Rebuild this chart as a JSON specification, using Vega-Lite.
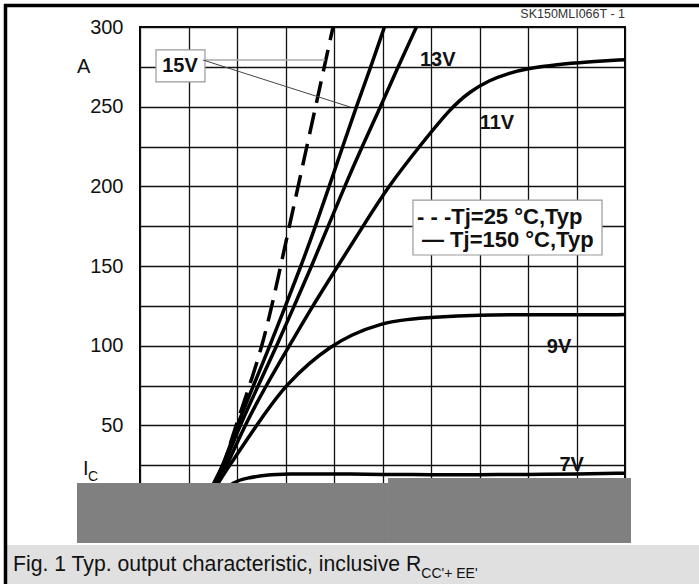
{
  "$schema": "https://vega.github.io/schema/vega-lite/v6.json",
  "width": 485,
  "height": 478,
  "autosize": {"type": "none"},
  "padding": {"left": 140, "top": 27, "right": 74, "bottom": 79},
  "background": "#ffffff",
  "config": {"view": {"stroke": "#000000", "strokeWidth": 2}, "font": "Liberation Sans"},
  "datasets": {
    "curves": [
      {"vge": "15V", "tj": 150, "v": 0.65, "i": 0}, {"vge": "15V", "tj": 150, "v": 0.76, "i": 14}, {"vge": "15V", "tj": 150, "v": 0.86, "i": 25}, {"vge": "15V", "tj": 150, "v": 1.0, "i": 50}, {"vge": "15V", "tj": 150, "v": 1.17, "i": 75}, {"vge": "15V", "tj": 150, "v": 1.34, "i": 100}, {"vge": "15V", "tj": 150, "v": 1.5, "i": 125}, {"vge": "15V", "tj": 150, "v": 1.66, "i": 150}, {"vge": "15V", "tj": 150, "v": 1.81, "i": 175}, {"vge": "15V", "tj": 150, "v": 1.95, "i": 200}, {"vge": "15V", "tj": 150, "v": 2.09, "i": 225}, {"vge": "15V", "tj": 150, "v": 2.23, "i": 250}, {"vge": "15V", "tj": 150, "v": 2.38, "i": 275}, {"vge": "15V", "tj": 150, "v": 2.52, "i": 300},
      {"vge": "13V", "tj": 150, "v": 0.66, "i": 0}, {"vge": "13V", "tj": 150, "v": 0.77, "i": 14}, {"vge": "13V", "tj": 150, "v": 0.87, "i": 25}, {"vge": "13V", "tj": 150, "v": 1.03, "i": 50}, {"vge": "13V", "tj": 150, "v": 1.22, "i": 75}, {"vge": "13V", "tj": 150, "v": 1.41, "i": 100}, {"vge": "13V", "tj": 150, "v": 1.59, "i": 125}, {"vge": "13V", "tj": 150, "v": 1.77, "i": 150}, {"vge": "13V", "tj": 150, "v": 1.94, "i": 175}, {"vge": "13V", "tj": 150, "v": 2.11, "i": 200}, {"vge": "13V", "tj": 150, "v": 2.29, "i": 225}, {"vge": "13V", "tj": 150, "v": 2.48, "i": 250}, {"vge": "13V", "tj": 150, "v": 2.66, "i": 275}, {"vge": "13V", "tj": 150, "v": 2.85, "i": 300},
      {"vge": "11V", "tj": 150, "v": 0.67, "i": 0}, {"vge": "11V", "tj": 150, "v": 0.79, "i": 14}, {"vge": "11V", "tj": 150, "v": 0.9, "i": 25}, {"vge": "11V", "tj": 150, "v": 1.08, "i": 50}, {"vge": "11V", "tj": 150, "v": 1.3, "i": 75}, {"vge": "11V", "tj": 150, "v": 1.54, "i": 100}, {"vge": "11V", "tj": 150, "v": 1.78, "i": 125}, {"vge": "11V", "tj": 150, "v": 2.04, "i": 150}, {"vge": "11V", "tj": 150, "v": 2.3, "i": 175}, {"vge": "11V", "tj": 150, "v": 2.56, "i": 200}, {"vge": "11V", "tj": 150, "v": 2.88, "i": 225}, {"vge": "11V", "tj": 150, "v": 3.2, "i": 249}, {"vge": "11V", "tj": 150, "v": 3.4, "i": 259.5}, {"vge": "11V", "tj": 150, "v": 3.6, "i": 266.5}, {"vge": "11V", "tj": 150, "v": 3.8, "i": 271}, {"vge": "11V", "tj": 150, "v": 4.0, "i": 274}, {"vge": "11V", "tj": 150, "v": 4.3, "i": 276.5}, {"vge": "11V", "tj": 150, "v": 4.6, "i": 278}, {"vge": "11V", "tj": 150, "v": 5.0, "i": 279.5},
      {"vge": "9V", "tj": 150, "v": 0.68, "i": 0}, {"vge": "9V", "tj": 150, "v": 0.84, "i": 17.8}, {"vge": "9V", "tj": 150, "v": 1.01, "i": 32.4}, {"vge": "9V", "tj": 150, "v": 1.2, "i": 50}, {"vge": "9V", "tj": 150, "v": 1.36, "i": 63.5}, {"vge": "9V", "tj": 150, "v": 1.51, "i": 75.3}, {"vge": "9V", "tj": 150, "v": 1.75, "i": 89.5}, {"vge": "9V", "tj": 150, "v": 1.96, "i": 99}, {"vge": "9V", "tj": 150, "v": 2.16, "i": 106.5}, {"vge": "9V", "tj": 150, "v": 2.5, "i": 114.3}, {"vge": "9V", "tj": 150, "v": 2.75, "i": 116.5}, {"vge": "9V", "tj": 150, "v": 3.0, "i": 117.8}, {"vge": "9V", "tj": 150, "v": 3.5, "i": 119.3}, {"vge": "9V", "tj": 150, "v": 4.0, "i": 119.5}, {"vge": "9V", "tj": 150, "v": 4.5, "i": 119.3}, {"vge": "9V", "tj": 150, "v": 5.0, "i": 119.5},
      {"vge": "7V", "tj": 150, "v": 0.74, "i": 0}, {"vge": "7V", "tj": 150, "v": 0.85, "i": 8}, {"vge": "7V", "tj": 150, "v": 0.96, "i": 14.4}, {"vge": "7V", "tj": 150, "v": 1.1, "i": 17}, {"vge": "7V", "tj": 150, "v": 1.3, "i": 18.8}, {"vge": "7V", "tj": 150, "v": 1.5, "i": 19.5}, {"vge": "7V", "tj": 150, "v": 2.0, "i": 19.5}, {"vge": "7V", "tj": 150, "v": 2.5, "i": 19.2}, {"vge": "7V", "tj": 150, "v": 3.0, "i": 19}, {"vge": "7V", "tj": 150, "v": 3.5, "i": 19}, {"vge": "7V", "tj": 150, "v": 4.0, "i": 19.2}, {"vge": "7V", "tj": 150, "v": 4.5, "i": 19.5}, {"vge": "7V", "tj": 150, "v": 5.0, "i": 20},
      {"vge": "15V", "tj": 25, "v": 0.74, "i": 0}, {"vge": "15V", "tj": 25, "v": 0.86, "i": 25}, {"vge": "15V", "tj": 25, "v": 0.99, "i": 50}, {"vge": "15V", "tj": 25, "v": 1.13, "i": 75}, {"vge": "15V", "tj": 25, "v": 1.26, "i": 100}, {"vge": "15V", "tj": 25, "v": 1.36, "i": 125}, {"vge": "15V", "tj": 25, "v": 1.45, "i": 150}, {"vge": "15V", "tj": 25, "v": 1.54, "i": 175}, {"vge": "15V", "tj": 25, "v": 1.63, "i": 200}, {"vge": "15V", "tj": 25, "v": 1.72, "i": 225}, {"vge": "15V", "tj": 25, "v": 1.81, "i": 250}, {"vge": "15V", "tj": 25, "v": 1.9, "i": 275}, {"vge": "15V", "tj": 25, "v": 1.99, "i": 300}
    ],
    "boxes": [
      {"name": "legend", "v": 2.814, "v2": 4.763, "i": 191.4, "i2": 156.9},
      {"name": "15V", "v": 0.165, "v2": 0.67, "i": 285.6, "i2": 265.5}
    ],
    "leaders": [
      {"name": "dashed", "v": 0.67, "v2": 1.907, "i": 279.3, "i2": 279.3},
      {"name": "solid", "v": 0.649, "v2": 2.165, "i": 279.3, "i2": 249.8}
    ],
    "curveLabels": [
      {"label": "15V", "v": 0.412, "i": 275.5},
      {"label": "13V", "v": 3.07, "i": 279.3},
      {"label": "11V", "v": 3.68, "i": 239.7},
      {"label": "9V", "v": 4.32, "i": 99.2},
      {"label": "7V", "v": 4.45, "i": 25.1}
    ],
    "legendText": [
      {"label": "- - -Tj=25 °C,Typ", "v": 2.856, "i": 180.8},
      {"label": "— Tj=150 °C,Typ", "v": 2.907, "i": 166.3}
    ],
    "unitText": [
      {"label": "A", "v": -0.6495, "i": 275.0}
    ],
    "icText": [
      {"label": "I", "v": -0.5876, "i": 18.83}
    ],
    "icSub": [
      {"label": "C", "v": -0.536, "i": 15.06}
    ],
    "redact": [
      {"v": -0.6495, "v2": 2.557, "i": 13.81, "i2": -23.85},
      {"v": 2.557, "v2": 5.062, "i": 16.95, "i2": -23.85}
    ],
    "frame": [
      {"v": -1.402, "v2": 5.763, "i": 313.5, "i2": 313.5},
      {"v": -1.3866, "v2": -1.3866, "i": 314.4, "i2": -49.6}
    ],
    "captionBar": [
      {"v": -1.371, "v2": 5.763, "i": -25.1, "i2": -49.6}
    ],
    "caption": [
      {"label": "Fig. 1 Typ. output characteristic, inclusive R", "v": -1.309, "i": -41.42}
    ],
    "captionSub": [
      {"label": "CC'+ EE'", "v": 2.9, "i": -45.8}
    ],
    "code": [
      {"label": "SK150MLI066T - 1", "v": 5.0, "i": 305.7}
    ]
  },
  "encoding": {
    "x": {
      "field": "v", "type": "quantitative",
      "scale": {"domain": [0, 5], "nice": false, "zero": false},
      "axis": {"values": [0, 0.5, 1, 1.5, 2, 2.5, 3, 3.5, 4, 4.5, 5], "labels": false, "ticks": false, "tickSize": 0, "domain": false, "title": null, "grid": true, "gridColor": "#111111", "gridWidth": 1.3, "gridOpacity": 1}
    },
    "y": {
      "field": "i", "type": "quantitative",
      "scale": {"domain": [0, 300], "nice": false, "zero": true},
      "axis": {"values": [0, 25, 50, 75, 100, 125, 150, 175, 200, 225, 250, 275, 300], "labelExpr": "datum.value % 50 === 0 && datum.value > 0 ? datum.label : ''", "ticks": false, "tickSize": 0, "domain": false, "title": null, "grid": true, "gridColor": "#111111", "gridWidth": 1.3, "gridOpacity": 1, "labelFont": "Liberation Sans", "labelFontSize": 20, "labelColor": "#111111", "labelPadding": 17, "labelOverlap": false}
    }
  },
  "layer": [
    {
      "data": {"name": "curves"},
      "transform": [{"filter": "datum.tj === 150"}],
      "mark": {"type": "line", "color": "#000000", "strokeWidth": 3.5, "interpolate": "basis"},
      "encoding": {"detail": {"field": "vge"}}
    },
    {
      "data": {"name": "curves"},
      "transform": [{"filter": "datum.tj === 25"}],
      "mark": {"type": "line", "color": "#000000", "strokeWidth": 3.5, "strokeDash": [22, 10], "interpolate": "basis"},
      "encoding": {"detail": {"field": "vge"}}
    },
    {
      "data": {"name": "boxes"},
      "mark": {"type": "rect", "fill": "#ffffff", "stroke": "#999999", "strokeWidth": 1.2},
      "encoding": {"x2": {"field": "v2"}, "y2": {"field": "i2"}}
    },
    {
      "data": {"name": "leaders"},
      "transform": [{"filter": "datum.name === 'dashed'"}],
      "mark": {"type": "rule", "color": "#aaaaaa", "strokeWidth": 1.5},
      "encoding": {"x2": {"field": "v2"}, "y2": {"field": "i2"}}
    },
    {
      "data": {"name": "leaders"},
      "transform": [{"filter": "datum.name === 'solid'"}],
      "mark": {"type": "rule", "color": "#444444", "strokeWidth": 1},
      "encoding": {"x2": {"field": "v2"}, "y2": {"field": "i2"}}
    },
    {
      "data": {"name": "curveLabels"},
      "mark": {"type": "text", "font": "Liberation Sans", "fontWeight": "bold", "fontSize": 20, "color": "#111111", "align": "center", "baseline": "middle"},
      "encoding": {"text": {"field": "label"}}
    },
    {
      "data": {"name": "legendText"},
      "mark": {"type": "text", "font": "Liberation Sans", "fontWeight": "bold", "fontSize": 22, "color": "#111111", "align": "left", "baseline": "middle"},
      "encoding": {"text": {"field": "label"}}
    },
    {
      "data": {"name": "unitText"},
      "mark": {"type": "text", "font": "Liberation Sans", "fontSize": 20, "color": "#111111", "align": "left", "baseline": "middle"},
      "encoding": {"text": {"field": "label"}}
    },
    {
      "data": {"name": "icText"},
      "mark": {"type": "text", "font": "Liberation Sans", "fontSize": 20, "color": "#111111", "align": "left", "baseline": "alphabetic"},
      "encoding": {"text": {"field": "label"}}
    },
    {
      "data": {"name": "icSub"},
      "mark": {"type": "text", "font": "Liberation Sans", "fontSize": 14, "color": "#111111", "align": "left", "baseline": "alphabetic"},
      "encoding": {"text": {"field": "label"}}
    },
    {
      "data": {"name": "redact"},
      "mark": {"type": "rect", "fill": "#808080"},
      "encoding": {"x2": {"field": "v2"}, "y2": {"field": "i2"}}
    },
    {
      "data": {"name": "captionBar"},
      "mark": {"type": "rect", "fill": "#e0e0e0"},
      "encoding": {"x2": {"field": "v2"}, "y2": {"field": "i2"}}
    },
    {
      "data": {"name": "frame"},
      "mark": {"type": "rule", "color": "#000000", "strokeWidth": 3.5},
      "encoding": {"x2": {"field": "v2"}, "y2": {"field": "i2"}}
    },
    {
      "data": {"name": "caption"},
      "mark": {"type": "text", "font": "Liberation Sans", "fontSize": 21.2, "color": "#111111", "align": "left", "baseline": "alphabetic"},
      "encoding": {"text": {"field": "label"}}
    },
    {
      "data": {"name": "captionSub"},
      "mark": {"type": "text", "font": "Liberation Sans", "fontSize": 14, "color": "#111111", "align": "left", "baseline": "alphabetic"},
      "encoding": {"text": {"field": "label"}}
    },
    {
      "data": {"name": "code"},
      "mark": {"type": "text", "font": "Liberation Sans", "fontSize": 12.5, "color": "#333333", "align": "right", "baseline": "alphabetic"},
      "encoding": {"text": {"field": "label"}}
    }
  ]
}
